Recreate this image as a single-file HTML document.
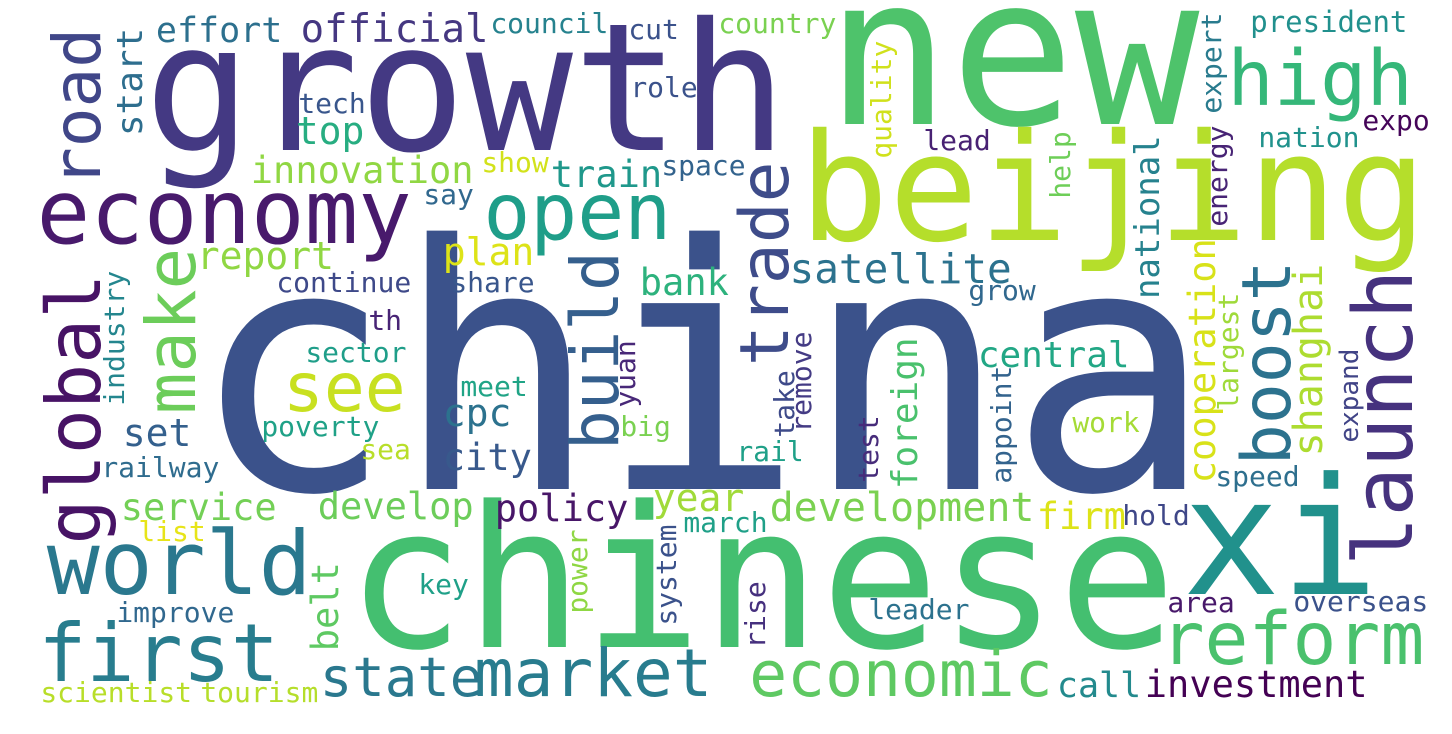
<!DOCTYPE html>
<html>
<head>
<meta charset="utf-8">
<style>
html,body{margin:0;padding:0;background:#fff;}
svg{display:block;}
text{font-family:"DejaVu Sans Mono","Liberation Mono",monospace;}
</style>
</head>
<body>
<svg id="cloud" width="1452" height="734" viewBox="0 0 1452 734" xmlns="http://www.w3.org/2000/svg">
<rect width="1452" height="734" fill="#ffffff"/>
</svg>
<script>
const words = ["china","chinese","growth","new","beijing","xi","economy","world","first","launch","open","global","high","reform","make","boost","see","trade","build","economic","market","road","state","satellite","development","shanghai","official","cooperation","innovation","effort","report","plan","train","top","set","cpc","city","bank","policy","year","firm","develop","service","belt","central","national","foreign","call","investment","start","tech","say","continue","th","sector","share","show","council","cut","country","role","space","quality","lead","president","expert","expo","nation","help","energy","grow","largest","expand","speed","appoint","work","hold","overseas","area","industry","railway","list","improve","key","scientist","tourism","poverty","sea","meet","big","yuan","take","remove","rail","test","march","power","system","rise","leader"];
const sizes = [340,197,178,207,149,163,89,88,80,82,78,75,77,73,69,68,68,68,66,63,66,66,54,41,40,40,39,37,37,35,38,38,37,38,38,38,37,37,37,38,37,37,37,37,36,34,36,35,37,36,28,28,28,28,28,28,28,28,28,28,28,28,28,28,29,28,28,28,28,28,28,28,26,28,28,28,28,28,28,28,28,28,28,28,28,28,28,28,28,28,28,28,28,28,28,28,28,28,28,28];
const xs = [210,358,155,838,808,1192,42,52,43,1412,488,100,1232,1165,195,1290,287,788,618,753,478,100,323,792,772,1322,303,1215,253,158,199,445,553,298,125,445,445,642,497,655,1039,320,123,338,980,1159,917,1059,1147,142,300,425,278,370,307,452,483,492,630,720,632,663,891,925,1252,1221,1364,1260,1070,1227,970,1238,1358,1217,1011,1074,1124,1295,1169,124,103,140,118,420,42,202,263,362,462,622,635,794,811,738,878,685,587,676,765,870];
const ys = [489,647,150,124,240,594,243,594,681,561,239,540,105,664,410,461,411,362,446,696,696,183,696,283,521,454,42,481,183,42,269,265,187,144,446,426,470,295,521,511,529,519,520,649,367,297,487,697,697,134,113,204,292,330,362,292,172,33,39,33,97,175,157,150,32,112,130,147,197,225,300,409,441,486,482,432,525,611,612,404,477,541,622,594,702,702,436,459,396,436,406,436,431,461,481,532,612,624,647,619];
const rotated = [0,0,0,0,0,0,0,0,0,1,0,1,0,0,1,1,0,1,1,0,0,1,0,0,0,1,0,1,0,0,0,0,0,0,0,0,0,0,0,0,0,0,0,1,0,1,1,0,0,1,0,0,0,0,0,0,0,0,0,0,0,0,1,0,0,1,0,0,1,1,0,1,1,0,1,0,0,0,0,1,0,0,0,0,0,0,0,0,0,0,1,1,1,0,1,0,1,1,1,0];
const colors = ["#3b528b","#44bf70","#443983","#4ec36b","#b5de2b","#21918c","#481a6c","#2a788e","#287d8e","#46327e","#1f9e89","#471365","#35b779","#4ac16d","#6ccd5a","#2c728e","#c8e020","#3e4c8a","#355f8d","#5ec962","#287c8e","#404688","#2a788e","#2c728e","#7ad151","#addc30","#453781","#d8e219","#90d743","#2d708e","#90d743","#dde318","#1f988b","#27ad81","#34608d","#2c728e","#38598c","#2db27d","#481668","#a0da39","#dde318","#6ccd5a","#73d056","#5ec962","#22a785","#26828e","#4ac16d","#238a8d","#440154","#2e6e8e","#39568c","#31688e","#3e4989","#482475","#1f9e89","#39568c","#d2e21b","#26828e","#3b528b","#7ad151","#3b528b","#33638d","#d0e11c","#482173","#21908d","#297b8e","#450559","#20928c","#6ece58","#482475","#31688e","#9fda3a","#414487","#2e6f8e","#33638d","#a5db36","#3f4788","#3b528b","#48186a","#24868e","#2f6c8e","#e7e419","#31688e","#1fa088","#b8de29","#b5de2b","#1fa187","#b8de29","#20a486","#7ad151","#482878","#3e4a89","#443b84","#1fa088","#472c7a","#1fa088","#8fd744","#3b528b","#46307e","#2c728e"];

const svg = document.getElementById('cloud');
const NS = 'http://www.w3.org/2000/svg';
for (let i = 0; i < words.length; i++) {
  const f = sizes[i];
  const t = document.createElementNS(NS, 'text');
  
  
  t.setAttribute('font-size', f);
  t.setAttribute('fill', colors[i]);
  if (rotated[i]) {
    const by = ys[i] + 0.06 * f;
    t.setAttribute('transform', 'translate(' + xs[i] + ',' + by + ') rotate(-90)');
    t.setAttribute('x', 0);
    t.setAttribute('y', 0);
  } else {
    t.setAttribute('x', xs[i] - 0.06 * f);
    t.setAttribute('y', ys[i]);
  }
  t.textContent = words[i];
  svg.appendChild(t);
}
</script>
</body>
</html>
